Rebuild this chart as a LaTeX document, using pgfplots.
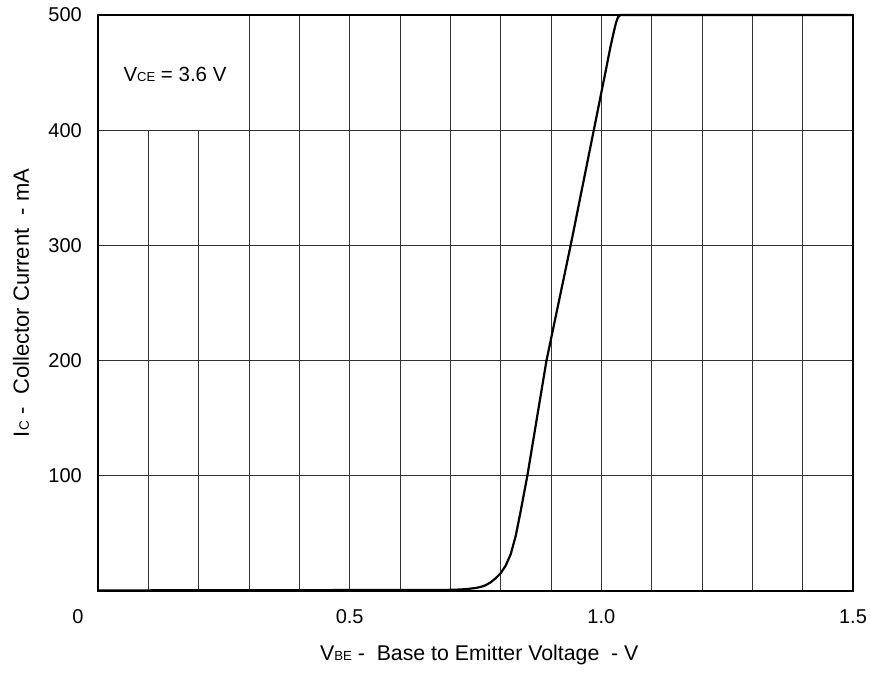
\documentclass[border=0pt]{standalone}
\usepackage{fontspec}
\setmainfont{Liberation Sans}
\usepackage{pgfplots}
\pgfplotsset{compat=1.18}
\begin{document}
\begin{tikzpicture}
\begin{axis}[name=ax, scale only axis, width=755pt, height=576pt,
  xmin=0, xmax=1.5, ymin=0, ymax=500,
  xtick={0.5,1,1.5}, xticklabels={0.5,1.0,1.5},
  ytick={100,200,300,400,500},
  tick style={draw=none},
  axis line style={line width=2pt},
  axis on top,
  clip=false,
  /pgf/number format/assume math mode=true,
  tick label style={font=\fontsize{20}{24}\selectfont},
  xticklabel style={anchor=center, yshift=-26pt},
  yticklabel style={anchor=east, inner sep=0pt, xshift=-16pt},
  xlabel={V{\fontsize{13.2}{15}\selectfont BE} -\ \ Base to Emitter Voltage\ \ - V},
  xlabel style={font=\fontsize{21.3}{25}\selectfont, at={(axis description cs:0.505,-0.111)}, anchor=center},
  ylabel={I{\fontsize{13.6}{15}\selectfont C} -\hspace{13pt}Collector Current\hspace{13pt}- mA},
  ylabel style={font=\fontsize{22}{26}\selectfont, at={(axis description cs:-0.102,0.5)}, anchor=center, rotate=0},
]
% grid
\pgfplotsinvokeforeach{0.3,0.4,0.5,0.6,0.7,0.8,0.9,1.0,1.1,1.2,1.3,1.4}{
  \draw[black!80, line width=0.75pt] (axis cs:#1,0) -- (axis cs:#1,500);
}
\pgfplotsinvokeforeach{0.1,0.2}{
  \draw[black!80, line width=0.75pt] (axis cs:#1,0) -- (axis cs:#1,400);
}
\pgfplotsinvokeforeach{100,200,300,400}{
  \draw[black!80, line width=0.75pt] (axis cs:0,#1) -- (axis cs:1.5,#1);
}
\addplot[black, line width=2.2pt, line join=round] coordinates {
(0,0.5) (0.5,0.8) (0.7,1) (0.72,1.3) (0.735,1.8) (0.75,2.6) (0.76,3.5) (0.77,5) (0.78,7.5)
(0.79,11) (0.80,15.5) (0.81,22) (0.82,32) (0.83,48) (0.84,70) (0.853,100) (0.872,150) (0.891,200)
(0.915,250) (0.939,300) (0.962,350) (0.985,400) (1.008,450) (1.018,472) (1.024,484) (1.029,493)
(1.033,498) (1.038,500) (1.5,500)
};
\node[font=\fontsize{20.5}{24}\selectfont, anchor=west] at (axis cs:0.0437,448.8)
  {V{\fontsize{13}{15}\selectfont CE} = 3.6 V};
\node[font=\fontsize{20}{24}\selectfont] at ([xshift=-20pt,yshift=-26pt]rel axis cs:0,0) {0};
\end{axis}
\pgfresetboundingbox
\path ([xshift=-98pt,yshift=-82pt]ax.south west) rectangle ([xshift=18pt,yshift=15pt]ax.north east);
\end{tikzpicture}
\end{document}
